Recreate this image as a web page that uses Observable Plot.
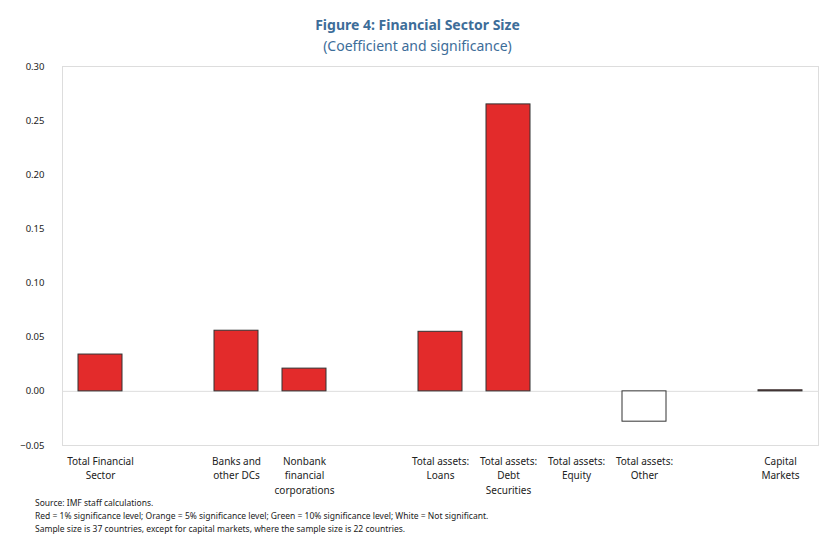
<!DOCTYPE html>
<html><head><meta charset="utf-8">
<script src="https://cdn.jsdelivr.net/npm/d3@7"></script>
<script src="https://cdn.jsdelivr.net/npm/@observablehq/plot@0.6"></script>
<style>
body{margin:0;background:#fff;font-family:"Noto Sans",sans-serif;}
#t{text-align:center;color:#3d6d99;margin-top:14px;line-height:20px}
#t b{font-size:14px}
#t span{font-size:14px}
#n{font-size:8.5px;color:#222;margin-left:35px;line-height:13px;margin-top:-4px}
</style></head><body>
<div id="t"><b>Figure 4: Financial Sector Size</b><br><span>(Coefficient and significance)</span></div>
<div id="c"></div>
<div id="n">Source: IMF staff calculations.<br>Red = 1% significance level; Orange = 5% significance level; Green = 10% significance level; White = Not significant.<br>Sample size is 37 countries, except for capital markets, where the sample size is 22 countries.</div>
<script>
const categories = ["Total Financial\nSector"," ","Banks and\nother DCs","Nonbank\nfinancial\ncorporations","  ","Total assets:\nLoans","Total assets:\nDebt\nSecurities","Total assets:\nEquity","Total assets:\nOther","   ","Capital\nMarkets"];
const values = [0.034,null,0.056,0.021,null,0.055,0.265,0,-0.028,null,0.001];
const significance = ["red",null,"red","red",null,"red","red","white","white",null,"red"];
const yTicks = [-0.05,0,0.05,0.10,0.15,0.20,0.25,0.30];
const data = categories.map((c,i)=>({c,v:values[i],s:significance[i]})).filter(d=>d.v!==null && d.v!==0);
const fill = {red:"#e32b2b",orange:"#f39c2b",green:"#3a9a3a",white:"#ffffff"};
const chart = Plot.plot({
  width:835,height:444,marginLeft:62,marginRight:17,marginTop:10,marginBottom:55,
  style:{fontSize:"9.5px",fontFamily:"Noto Sans, sans-serif",color:"#222"},
  x:{domain:categories,paddingInner:0.36,paddingOuter:0.18,label:null},
  y:{domain:[-0.05,0.30],ticks:yTicks,tickFormat:d3.format(".2f"),label:null},
  marks:[
    Plot.frame({stroke:"#ddd"}),
    Plot.ruleY([0],{stroke:"#ddd"}),
    Plot.axisY({ticks:yTicks,tickFormat:d3.format(".2f"),tickSize:0,tickPadding:18,label:null}),
    Plot.axisX({tickSize:0,tickPadding:9,lineHeight:1.45,label:null,fontSize:10}),
    Plot.barY(data,{x:"c",y:"v",fill:d=>fill[d.s],stroke:"#333",strokeWidth:1})
  ]
});
document.getElementById("c").appendChild(chart);
</script></body></html>
